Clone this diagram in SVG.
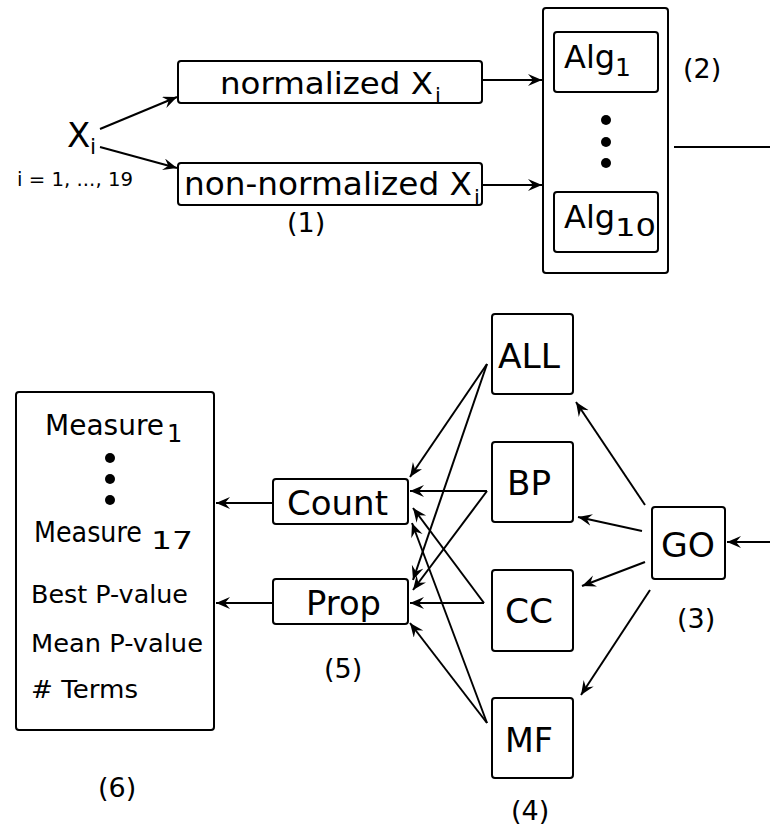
<svg xmlns="http://www.w3.org/2000/svg" width="770" height="825" viewBox="0 0 770 825">
<defs>
<marker id="ah" markerUnits="userSpaceOnUse" markerWidth="16" markerHeight="14" refX="14" refY="6" orient="auto">
<path d="M0,0 L14,6 L0,12 L5,6 Z" fill="#000"/>
</marker>
<style>
.box{fill:#fff;stroke:#000;stroke-width:2}
.t{font-family:"DejaVu Sans",sans-serif;fill:#000}
.c{stroke:#000;stroke-width:2;fill:none}
.a{marker-end:url(#ah)}
</style>
</defs>
<rect width="770" height="825" fill="#fff"/>
<g id="connectors">
<line class="c a" x1="100" y1="129" x2="177" y2="97"/>
<line class="c a" x1="100" y1="147" x2="177" y2="168"/>
<line class="c a" x1="482" y1="80" x2="542" y2="80"/>
<line class="c a" x1="482" y1="185" x2="542" y2="185"/>
<line class="c" x1="674" y1="147" x2="770" y2="147"/>
<line class="c a" x1="770" y1="542" x2="727" y2="542"/>
<line class="c a" x1="645" y1="505" x2="576" y2="402"/>
<line class="c a" x1="642" y1="531" x2="578" y2="517"/>
<line class="c a" x1="645" y1="562" x2="582" y2="586"/>
<line class="c a" x1="650" y1="590" x2="581" y2="695"/>
<line class="c a" x1="487" y1="364" x2="410" y2="477"/>
<line class="c a" x1="487" y1="364" x2="413" y2="580"/>
<line class="c a" x1="487" y1="491" x2="410" y2="491"/>
<line class="c a" x1="487" y1="491" x2="413" y2="590"/>
<line class="c a" x1="484" y1="603" x2="410" y2="603"/>
<line class="c a" x1="484" y1="603" x2="413" y2="508"/>
<line class="c a" x1="487" y1="723" x2="412" y2="523"/>
<line class="c a" x1="487" y1="723" x2="410" y2="623"/>
<line class="c a" x1="273" y1="503" x2="216" y2="503"/>
<line class="c a" x1="273" y1="603" x2="216" y2="603"/>
</g>
<g id="xi">
<text class="t" x="67" y="147" font-size="34">X</text>
<text class="t" x="90" y="154" font-size="22">i</text>
<text class="t" x="17" y="186" font-size="19" textLength="116" lengthAdjust="spacingAndGlyphs">i = 1, ..., 19</text>
</g>
<g id="normalized">
<rect class="box" x="178" y="61" width="304" height="42" rx="3"/>
<text class="t" x="220" y="94" font-size="31" textLength="213" lengthAdjust="spacingAndGlyphs">normalized X</text>
<text class="t" x="435" y="103" font-size="21">i</text>
</g>
<g id="non-normalized">
<rect class="box" x="178" y="163" width="304" height="42" rx="3"/>
<text class="t" x="184" y="195" font-size="32" textLength="288" lengthAdjust="spacingAndGlyphs">non-normalized X</text>
<text class="t" x="474" y="205" font-size="21">i</text>
<text class="t" x="287" y="232" font-size="27">(1)</text>
</g>
<g id="algorithms">
<rect class="box" x="543" y="8" width="125" height="265" rx="3"/>
<rect class="box" x="554" y="32" width="104" height="60" rx="3"/>
<text class="t" x="564" y="68" font-size="32">Alg</text>
<text class="t" x="615" y="76" font-size="25">1</text>
<circle cx="606" cy="120" r="5"/>
<circle cx="606" cy="142" r="5"/>
<circle cx="606" cy="163" r="5"/>
<rect class="box" x="554" y="192" width="104" height="60" rx="3"/>
<text class="t" x="564" y="228" font-size="32">Alg</text>
<text class="t" x="615" y="236" font-size="25" textLength="41" lengthAdjust="spacingAndGlyphs">10</text>
<text class="t" x="683" y="78" font-size="27">(2)</text>
</g>
<g id="go">
<rect class="box" x="652" y="507" width="73" height="72" rx="3"/>
<text class="t" x="661" y="557" font-size="34" textLength="54" lengthAdjust="spacingAndGlyphs">GO</text>
<text class="t" x="677" y="628" font-size="27">(3)</text>
</g>
<g id="all">
<rect class="box" x="492" y="314" width="81" height="80" rx="3"/>
<text class="t" x="498" y="368" font-size="34" textLength="62" lengthAdjust="spacingAndGlyphs">ALL</text>
</g>
<g id="bp">
<rect class="box" x="492" y="442" width="81" height="80" rx="3"/>
<text class="t" x="507" y="495" font-size="34" textLength="44" lengthAdjust="spacingAndGlyphs">BP</text>
</g>
<g id="cc">
<rect class="box" x="492" y="570" width="81" height="81" rx="3"/>
<text class="t" x="505" y="623" font-size="34" textLength="48" lengthAdjust="spacingAndGlyphs">CC</text>
</g>
<g id="mf">
<rect class="box" x="492" y="698" width="81" height="80" rx="3"/>
<text class="t" x="505" y="752" font-size="34" textLength="48" lengthAdjust="spacingAndGlyphs">MF</text>
<text class="t" x="511" y="820" font-size="27">(4)</text>
</g>
<g id="count">
<rect class="box" x="273" y="479" width="135" height="45" rx="3"/>
<text class="t" x="287" y="515" font-size="33" textLength="101" lengthAdjust="spacingAndGlyphs">Count</text>
</g>
<g id="prop">
<rect class="box" x="273" y="579" width="135" height="45" rx="3"/>
<text class="t" x="306" y="615" font-size="33" textLength="75" lengthAdjust="spacingAndGlyphs">Prop</text>
<text class="t" x="324" y="678" font-size="27">(5)</text>
</g>
<g id="measures">
<rect class="box" x="16" y="392" width="198" height="338" rx="3"/>
<text class="t" x="45" y="435" font-size="28" textLength="119" lengthAdjust="spacingAndGlyphs">Measure</text>
<text class="t" x="167" y="442" font-size="24">1</text>
<circle cx="110" cy="458" r="5"/>
<circle cx="110" cy="479" r="5"/>
<circle cx="110" cy="500" r="5"/>
<text class="t" x="34" y="542" font-size="28" textLength="108" lengthAdjust="spacingAndGlyphs">Measure</text>
<text class="t" x="151" y="549" font-size="24" textLength="42" lengthAdjust="spacingAndGlyphs">17</text>
<text class="t" x="31" y="603" font-size="25" textLength="157" lengthAdjust="spacingAndGlyphs">Best P-value</text>
<text class="t" x="31" y="652" font-size="25" textLength="172" lengthAdjust="spacingAndGlyphs">Mean P-value</text>
<text class="t" x="31" y="698" font-size="25" textLength="107" lengthAdjust="spacingAndGlyphs"># Terms</text>
<text class="t" x="98" y="797" font-size="27">(6)</text>
</g>
</svg>
